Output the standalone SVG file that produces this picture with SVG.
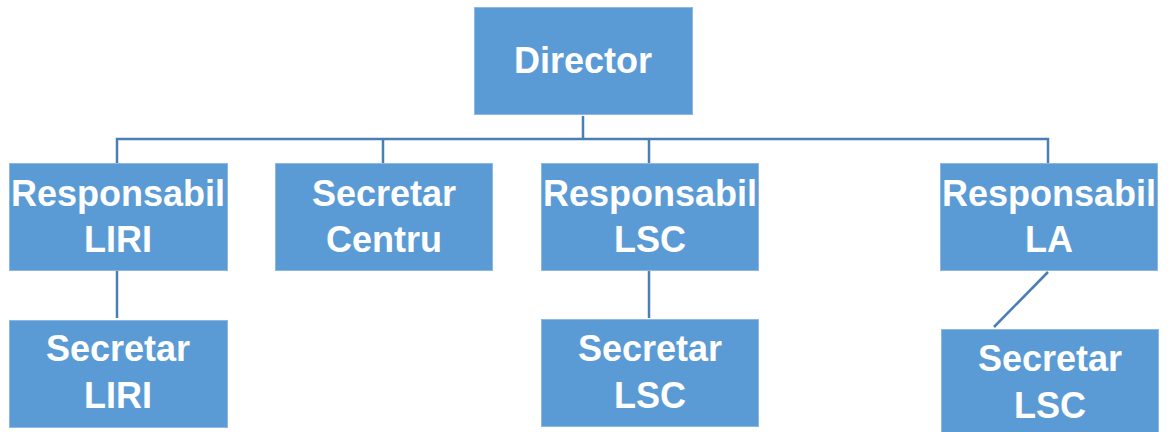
<svg xmlns="http://www.w3.org/2000/svg" width="1168" height="432" viewBox="0 0 1168 432">
<style>
.box{fill:#5B9BD5;stroke:#8CB8E2;stroke-width:1}
.lbl{font-family:"Liberation Sans",Arial,sans-serif;font-weight:bold;font-size:36px;fill:#FFFFFF;text-anchor:middle}
.con{stroke:#4A7EB4;stroke-width:2.5;fill:none}
</style>
<rect width="1168" height="432" fill="#FFFFFF"/>
<g id="connectors">
<path class="con" d="M583,116 V139 M117,163 V139 H1048 V163 M383,139 V163 M649,139 V163"/>
<path class="con" d="M117,271 V318"/>
<path class="con" d="M649,271 V318"/>
<path class="con" d="M1048,272 L994,327"/>
</g>
<g id="director"><rect class="box" x="474.5" y="7.5" width="218" height="107"/><text class="lbl" x="583" y="73">Director</text></g>
<g id="resp-liri"><rect class="box" x="9.5" y="163.5" width="218" height="107"/><text class="lbl" x="118" y="206">Responsabil</text><text class="lbl" x="118" y="252">LIRI</text></g>
<g id="secretar-centru"><rect class="box" x="275.5" y="163.5" width="217" height="107"/><text class="lbl" x="384" y="206">Secretar</text><text class="lbl" x="384" y="252">Centru</text></g>
<g id="resp-lsc"><rect class="box" x="541.5" y="163.5" width="217" height="107"/><text class="lbl" x="650" y="206">Responsabil</text><text class="lbl" x="650" y="252">LSC</text></g>
<g id="resp-la"><rect class="box" x="940.5" y="163.5" width="217" height="107"/><text class="lbl" x="1049" y="206">Responsabil</text><text class="lbl" x="1049" y="252">LA</text></g>
<g id="secretar-liri"><rect class="box" x="9.5" y="320.5" width="218" height="107"/><text class="lbl" x="118" y="361">Secretar</text><text class="lbl" x="118" y="408">LIRI</text></g>
<g id="secretar-lsc"><rect class="box" x="541.5" y="319.5" width="217" height="107"/><text class="lbl" x="650" y="361">Secretar</text><text class="lbl" x="650" y="408">LSC</text></g>
<g id="secretar-lsc-2"><rect class="box" x="941.5" y="329.5" width="217" height="107"/><text class="lbl" x="1050" y="371">Secretar</text><text class="lbl" x="1050" y="418">LSC</text></g>
</svg>
